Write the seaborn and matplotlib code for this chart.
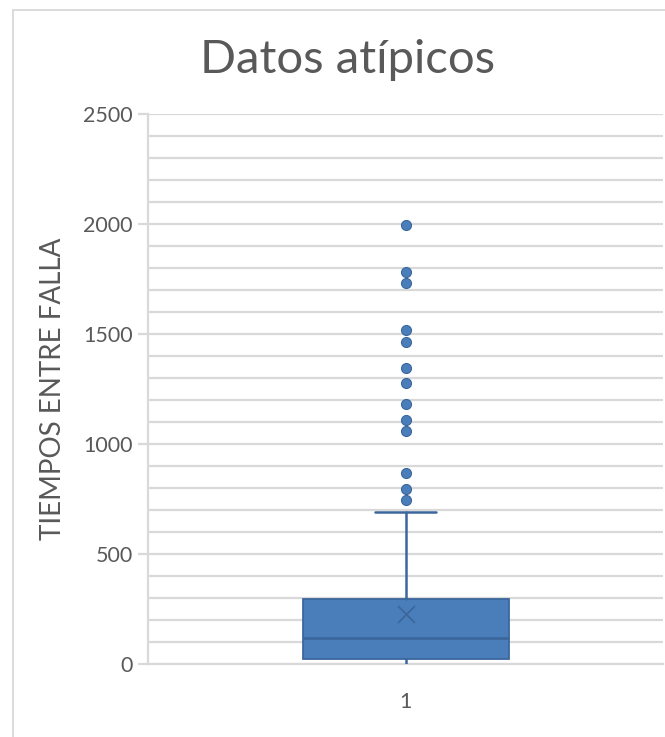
import matplotlib
matplotlib.use("Agg")
import matplotlib.pyplot as plt
from matplotlib.lines import Line2D
import numpy as np
import pandas as pd
import seaborn as sns

# Summary of "tiempos entre falla" (time between failures)
categories = ["1"]
whisker_low = [2]
q1 = [23]
median = [120]
q3 = [295]
whisker_high = [692]
mean_values = [227]
outliers = [745, 794, 867, 1060, 1109, 1180, 1276, 1344, 1465, 1518, 1733, 1780, 1995]

y_ticks = [0, 500, 1000, 1500, 2000, 2500]

sns.set_theme(style="white")
plt.rcParams["font.family"] = ["Lato", "DejaVu Sans"]

FILL = "#4a7ebb"
EDGE = "#3b679c"
TEXT = "#595959"
GRID = "#d9d9d9"

fig = plt.figure(figsize=(6.65, 7.37), dpi=100)
ax = fig.add_axes([148 / 665, 1 - 664 / 737, (663 - 148) / 665, (664 - 114) / 737])

stats = [
    dict(label=categories[i], whislo=whisker_low[i], q1=q1[i], med=median[i],
         q3=q3[i], whishi=whisker_high[i], mean=mean_values[i], fliers=[])
    for i in range(len(categories))
]
parts = ax.bxp(stats, positions=[0], widths=0.4, patch_artist=True, showmeans=False,
               showfliers=False,
               boxprops=dict(facecolor=FILL, edgecolor=EDGE, linewidth=1.3),
               medianprops=dict(color=EDGE, linewidth=2.0),
               whiskerprops=dict(color=EDGE, linewidth=1.8),
               capprops=dict(color=EDGE, linewidth=1.8),
               capwidths=0.12, zorder=3)
# the lower cap sits on the axis line and reads as part of it
parts["caps"][0].set_color("#c8c8c8")
parts["caps"][0].set_zorder(2)

pts = pd.DataFrame({"x": [0] * len(outliers), "y": outliers})
sns.scatterplot(data=pts, x="x", y="y", ax=ax, s=52, color=FILL,
                edgecolor=EDGE, linewidth=0.8, zorder=4, legend=False)

mean_df = pd.DataFrame({"x": [0] * len(mean_values), "y": mean_values})
sns.scatterplot(data=mean_df, x="x", y="y", ax=ax, marker="x", s=150,
                color=EDGE, linewidth=1.3, zorder=5, legend=False)

ax.set_xlim(-0.5, 0.5)
ax.set_ylim(0, 2500)
ax.set_yticks(y_ticks)
ax.set_yticks(np.arange(0, 2501, 100), minor=True)
ax.set_xticks([0])
ax.set_xticklabels(categories)
ax.grid(True, which="both", axis="y", color=GRID, linewidth=1.6, zorder=0)
ax.set_axisbelow(True)

for side in ("top", "right"):
    ax.spines[side].set_visible(False)
for side in ("left", "bottom"):
    ax.spines[side].set_color(GRID)
    ax.spines[side].set_linewidth(1.6)

ax.tick_params(axis="y", which="major", length=7, width=1.6, color=GRID,
               labelsize=15.5, labelcolor=TEXT, pad=4, left=True)
ax.tick_params(axis="y", which="minor", length=0)
ax.tick_params(axis="x", length=0, labelsize=15.5, labelcolor=TEXT, pad=20)

ax.set_xlabel("")
ax.set_ylabel("TIEMPOS ENTRE FALLA", fontsize=20, color=TEXT, labelpad=12)
fig.text(348 / 665, 1 - 60 / 737, "Datos atípicos", fontsize=34, color=TEXT,
         ha="center", va="center")

# chart area frame
fig.add_artist(Line2D([13 / 665, 1], [1 - 10 / 737] * 2, color=GRID, linewidth=1.3,
                      transform=fig.transFigure))
fig.add_artist(Line2D([13 / 665] * 2, [0, 1 - 10 / 737], color=GRID, linewidth=1.3,
                      transform=fig.transFigure))

fig.savefig("out.png", dpi=100)
